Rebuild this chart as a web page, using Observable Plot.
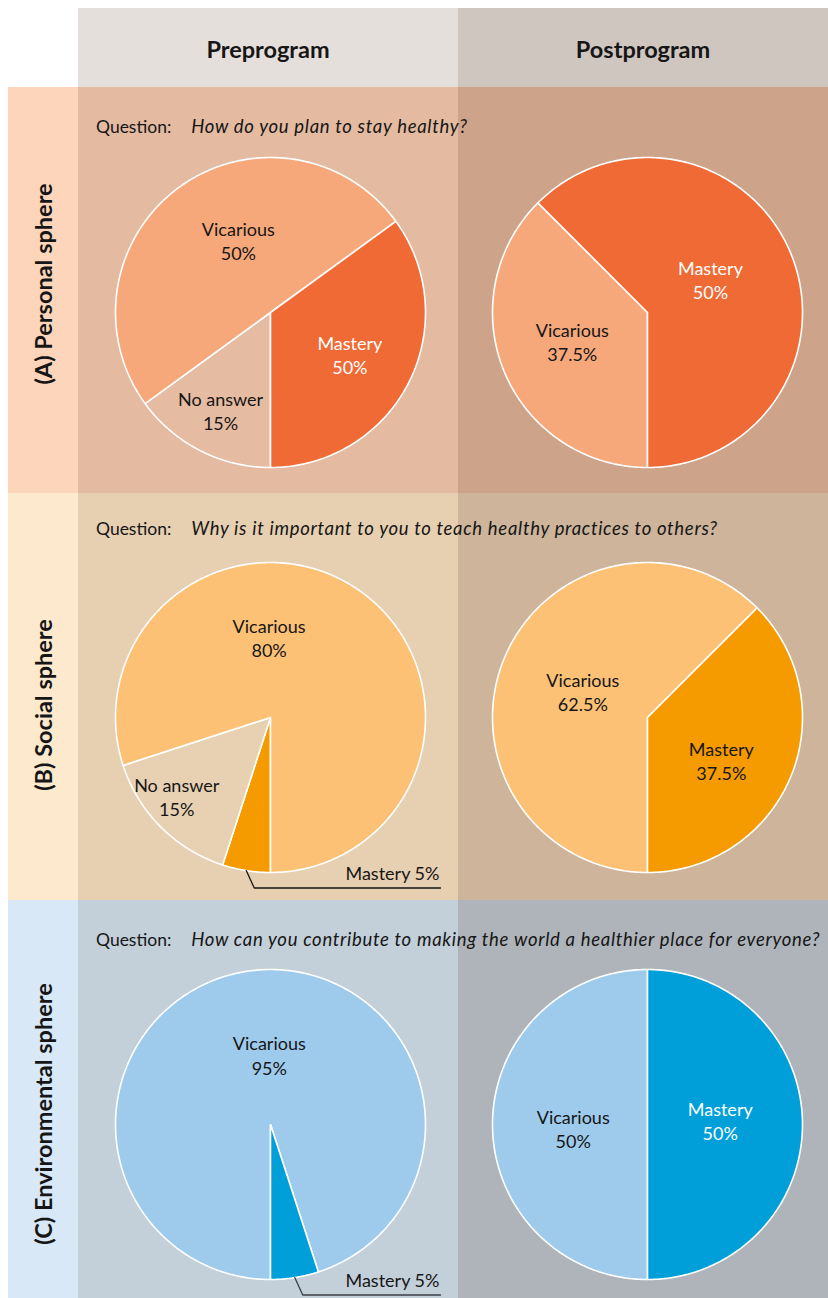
<!DOCTYPE html>
<html>
<head>
<meta charset="utf-8">
<script src="https://cdn.jsdelivr.net/npm/d3@7"></script>
<script src="https://cdn.jsdelivr.net/npm/@observablehq/plot@0.6"></script>
<style>
  html, body { margin: 0; padding: 0; background: #fff; }
  #root { position: relative; width: 828px; height: 1298px; overflow: hidden; font-family: Lato, "Open Sans", sans-serif; color: #161616; }
  .abs { position: absolute; }
  .head { font-weight: 700; font-size: 23.5px; text-align: center; line-height: 83px; }
  .side { font-weight: 700; font-size: 23.5px; white-space: nowrap; transform: translate(-50%, -50%) rotate(-90deg); }
  .question { font-size: 17.5px; white-space: nowrap; line-height: 22px; }
  .question i { margin-left: 20px; font-size: 18.5px; letter-spacing: 0.7px; }
</style>
</head>
<body>
<div id="root"></div>
<script>
// ---------------- DATA ----------------
const phases = ["Preprogram", "Postprogram"];
const spheres = ["(A) Personal sphere", "(B) Social sphere", "(C) Environmental sphere"];
const questions = [
  "How do you plan to stay healthy?",
  "Why is it important to you to teach healthy practices to others?",
  "How can you contribute to making the world a healthier place for everyone?"
];

// Slices are listed clockwise, starting from the bottom of each pie
const preA_categories = ["No answer", "Vicarious", "Mastery"];
const preA_values = [15, 50, 35];
const preA_labels = ["No answer\n15%", "Vicarious\n50%", "Mastery\n50%"];

const postA_categories = ["Vicarious", "Mastery"];
const postA_values = [37.5, 62.5];
const postA_labels = ["Vicarious\n37.5%", "Mastery\n50%"];

const preB_categories = ["Mastery", "No answer", "Vicarious"];
const preB_values = [5, 15, 80];
const preB_labels = ["Mastery 5%", "No answer\n15%", "Vicarious\n80%"];

const postB_categories = ["Vicarious", "Mastery"];
const postB_values = [62.5, 37.5];
const postB_labels = ["Vicarious\n62.5%", "Mastery\n37.5%"];

const preC_categories = ["Vicarious", "Mastery"];
const preC_values = [95, 5];
const preC_labels = ["Vicarious\n95%", "Mastery 5%"];

const postC_categories = ["Vicarious", "Mastery"];
const postC_values = [50, 50];
const postC_labels = ["Vicarious\n50%", "Mastery\n50%"];

// ---------------- LAYOUT & STYLE ----------------
const colX = [78, 458], colW = [380, 370];
const headTop = 8, headH = 79;
const rowTop = [87, 493, 900], rowH = [406, 407, 398];
const sideX = 8, sideW = 70;
const sideCenterY = [284, 705, 1114];
const questionOffset = [28, 24, 28];
const R = 155;
const pieCx = [192, 189];          // within column
const pieCy = [225, 224, 224];     // within row

const headBg = ["#e5dfdc", "#cfc6c0"];
const sideBg = ["#fdd5bb", "#fde9cd", "#d8e8f7"];
const cellBg = [["#e4baa0", "#cda38a"], ["#e7cfb1", "#cdb49a"], ["#c3cfd9", "#aeb4ba"]];
const palettes = [
  {"Mastery": "#ef6a35", "Vicarious": "#f7a87b", "No answer": "#e5bba1"},
  {"Mastery": "#f59b00", "Vicarious": "#fdc176", "No answer": "#e8d0b3"},
  {"Mastery": "#009fda", "Vicarious": "#9ecbec", "No answer": "#c3cfd9"}
];
const inks = [
  {"Mastery": "#ffffff", "Vicarious": "#161616", "No answer": "#161616"},
  {"Mastery": "#161616", "Vicarious": "#161616", "No answer": "#161616"},
  {"Mastery": "#ffffff", "Vicarious": "#161616", "No answer": "#161616"}
];
const calloutInk = ["#161616", "#161616", "#3a3f45"];
// label placement: [angle clockwise from top in degrees, radius fraction] or "callout"
const placements = {
  preA:  {"No answer": [207, 0.71], "Vicarious": [336, 0.51], "Mastery": [118, 0.58]},
  postA: {"Vicarious": [249, 0.52], "Mastery": [62, 0.46]},
  preB:  {"Mastery": "callout", "No answer": [230, 0.79], "Vicarious": [359, 0.52]},
  postB: {"Vicarious": [292, 0.45], "Mastery": [120, 0.55]},
  preC:  {"Vicarious": [359, 0.45], "Mastery": "callout"},
  postC: {"Vicarious": [267, 0.48], "Mastery": [87, 0.47]}
};

const pies = [
  {id: "preA", row: 0, col: 0, cats: preA_categories, vals: preA_values, labels: preA_labels},
  {id: "postA", row: 0, col: 1, cats: postA_categories, vals: postA_values, labels: postA_labels},
  {id: "preB", row: 1, col: 0, cats: preB_categories, vals: preB_values, labels: preB_labels},
  {id: "postB", row: 1, col: 1, cats: postB_categories, vals: postB_values, labels: postB_labels},
  {id: "preC", row: 2, col: 0, cats: preC_categories, vals: preC_values, labels: preC_labels},
  {id: "postC", row: 2, col: 1, cats: postC_categories, vals: postC_values, labels: postC_labels}
];

// ---------------- BUILD ----------------
const root = document.getElementById("root");
function box(left, top, width, height, bg, cls, html) {
  const d = document.createElement("div");
  d.className = "abs" + (cls ? " " + cls : "");
  Object.assign(d.style, {left: left + "px", top: top + "px"});
  if (width != null) d.style.width = width + "px";
  if (height != null) d.style.height = height + "px";
  if (bg) d.style.background = bg;
  if (html != null) d.innerHTML = html;
  root.appendChild(d);
  return d;
}

// header
phases.forEach((p, i) => box(colX[i], headTop, colW[i], headH, headBg[i], "head", p));
// rows
spheres.forEach((s, r) => {
  box(sideX, rowTop[r], sideW, rowH[r], sideBg[r]);
  box(colX[0], rowTop[r], colW[0], rowH[r], cellBg[r][0]);
  box(colX[1], rowTop[r], colW[1], rowH[r], cellBg[r][1]);
  box(sideX + sideW / 2, sideCenterY[r], null, null, null, "side", s);
});

const rad = (deg) => deg * Math.PI / 180;

pies.forEach(p => {
  const palette = palettes[p.row], ink = inks[p.row];
  const total = d3.sum(p.vals);
  const polys = [], texts = [], leader = [], callouts = [];
  let a = 180;
  p.cats.forEach((c, i) => {
    const span = p.vals[i] / total * 360;
    const a0 = a, a1 = a + span;
    a = a1;
    const n = Math.max(2, Math.ceil(span));
    polys.push({key: c, x: 0, y: 0, fill: palette[c]});
    for (let k = 0; k <= n; k++) {
      const t = rad(a0 + (a1 - a0) * k / n);
      polys.push({key: c, x: Math.sin(t), y: Math.cos(t), fill: palette[c]});
    }
    const pl = placements[p.id][c];
    if (pl === "callout") {
      const mid = rad((a0 + a1) / 2);
      const sx = Math.sin(mid), sy = Math.cos(mid);
      const ly = -1.1;
      leader.push({x: sx, y: sy}, {x: sx + 8 / R, y: ly}, {x: 1.097, y: ly});
      callouts.push({x: 1.09, y: ly + 8 / R, text: p.labels[i]});
    } else {
      const t = rad(pl[0]);
      texts.push({x: pl[1] * Math.sin(t), y: pl[1] * Math.cos(t), text: p.labels[i], ink: ink[c]});
    }
  });

  const w = colW[p.col], h = rowH[p.row];
  const cx = pieCx[p.col], cy = pieCy[p.row];
  const chart = Plot.plot({
    width: w, height: h,
    margin: 0,
    style: {background: "transparent", fontFamily: "Lato, 'Open Sans', sans-serif", overflow: "visible"},
    x: {domain: [-1, 1], range: [cx - R, cx + R], axis: null},
    y: {domain: [-1, 1], range: [cy + R, cy - R], axis: null},
    color: {type: "identity"},
    marks: [
      Plot.line(polys, {x: "x", y: "y", z: "key", fill: "fill", stroke: "white", strokeWidth: 1.6, curve: "linear-closed", strokeLinejoin: "miter"}),
      Plot.text(texts, {x: "x", y: "y", text: "text", fill: "ink", fontSize: 18, lineHeight: 1.34, lineAnchor: "middle"}),
      Plot.line(leader, {x: "x", y: "y", stroke: calloutInk[p.row], strokeWidth: 1.3, strokeLinejoin: "miter"}),
      Plot.text(callouts, {x: "x", y: "y", text: "text", fill: "#161616", fontSize: 18, textAnchor: "end", lineAnchor: "bottom"})
    ]
  });
  const holder = box(colX[p.col], rowTop[p.row], w, h);
  holder.appendChild(chart);
});

// questions (span both columns, on top)
questions.forEach((q, r) => box(96, rowTop[r] + questionOffset[r], null, null, null, "question", "Question:<i>" + q + "</i>"));
</script>
</body>
</html>
